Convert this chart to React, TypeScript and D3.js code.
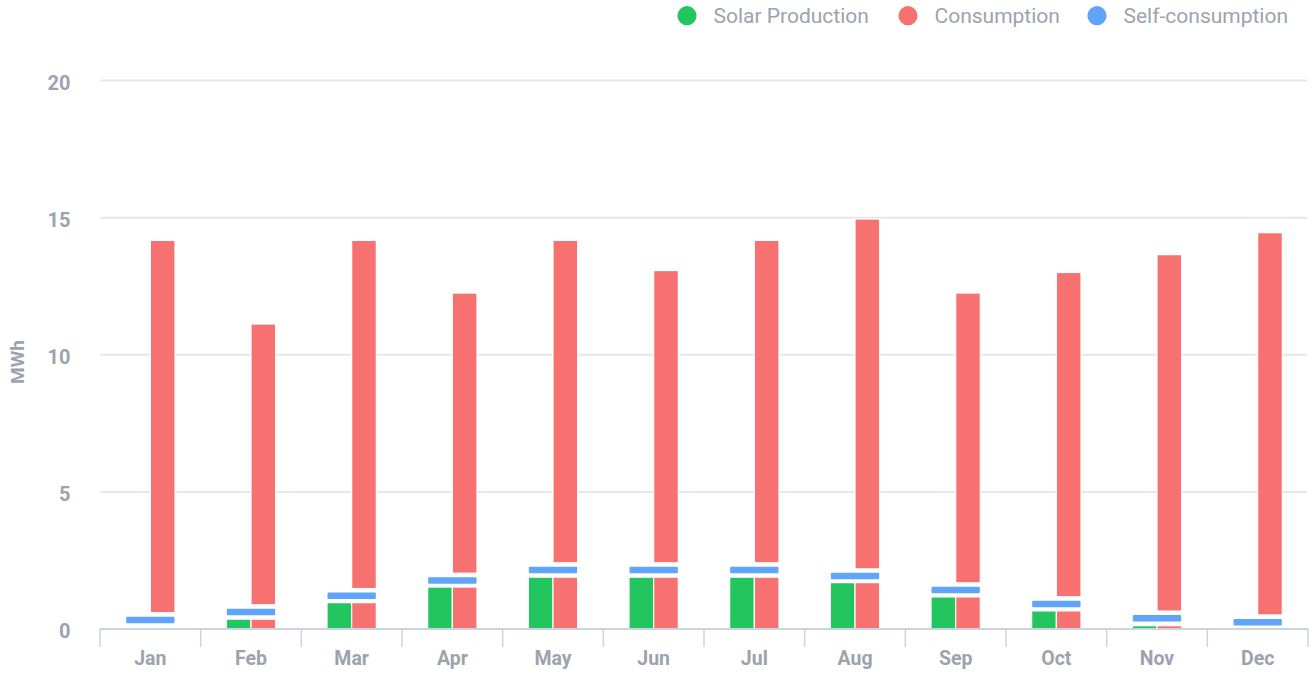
import React, { useEffect, useRef } from 'react';
import * as d3 from 'd3';

const months = ['Jan', 'Feb', 'Mar', 'Apr', 'May', 'Jun', 'Jul', 'Aug', 'Sep', 'Oct', 'Nov', 'Dec'];
const solarProduction = [0.03, 0.36, 0.96, 1.53, 1.89, 1.89, 1.89, 1.69, 1.17, 0.66, 0.12, 0];
const consumption = [14.17, 11.12, 14.17, 12.25, 14.17, 13.07, 14.17, 14.95, 12.25, 13.0, 13.65, 14.45];
const selfConsumption = [0.33, 0.62, 1.21, 1.77, 2.15, 2.15, 2.15, 1.93, 1.42, 0.91, 0.39, 0.25];
const yTicks = [0, 5, 10, 15, 20];

const legendItems = [
  { name: 'Solar Production', color: '#22c55e', x: 687 },
  { name: 'Consumption', color: '#f87171', x: 908 },
  { name: 'Self-consumption', color: '#60a5fa', x: 1097 }
];

const WIDTH = 1315;
const HEIGHT = 674;

export default function App() {
  const svgRef = useRef<SVGSVGElement>(null);

  useEffect(() => {
    if (!svgRef.current) return;
    document.body.style.margin = '0';
    const svg = d3.select(svgRef.current);
    svg.selectAll('*').remove();

    const margin = { top: 80.5, right: 7, bottom: 45, left: 100 };
    const x0 = d3.scaleBand<string>()
      .domain(months)
      .range([margin.left, WIDTH - margin.right])
      .paddingInner(0)
      .paddingOuter(0);
    const groupWidth = x0.bandwidth() * 0.49;
    const x1 = d3.scaleBand<string>()
      .domain(['solar', 'consumption'])
      .range([0, groupWidth]);
    const y = d3.scaleLinear().domain([0, 20]).range([629, margin.top]);

    const font = 'Roboto, sans-serif';
    const textColor = '#9ca3af';

    // grid
    svg.append('g')
      .selectAll('line')
      .data(yTicks.filter(t => t > 0))
      .join('line')
      .attr('x1', margin.left)
      .attr('x2', WIDTH - margin.right - 1)
      .attr('y1', d => y(d))
      .attr('y2', d => y(d))
      .attr('stroke', '#e5e7eb')
      .attr('stroke-width', 2);

    // y labels
    svg.append('g')
      .selectAll('text')
      .data(yTicks)
      .join('text')
      .attr('x', 70.5)
      .attr('y', d => y(d) + 2)
      .attr('dy', '0.35em')
      .attr('text-anchor', 'end')
      .attr('font-family', font)
      .attr('font-weight', 700)
      .attr('font-size', 20)
      .attr('fill', textColor)
      .text(d => d);

    svg.append('text')
      .attr('transform', 'translate(24,362) rotate(-90)')
      .attr('text-anchor', 'middle')
      .attr('font-family', font)
      .attr('font-weight', 700)
      .attr('font-size', 19)
      .attr('fill', textColor)
      .text('MWh');

    // bars
    const bars = svg.append('g');
    months.forEach((m, i) => {
      const gx = (x0(m) ?? 0) + (x0.bandwidth() - groupWidth) / 2;
      const s = solarProduction[i];
      const c = consumption[i];
      const sc = selfConsumption[i];
      const blueH = 6.5;
      const blueTop = y(sc) - blueH / 2;

      bars.append('rect')
        .attr('x', gx + (x1('solar') ?? 0))
        .attr('y', y(s))
        .attr('width', x1.bandwidth())
        .attr('height', Math.max(0, y(0) - y(s)))
        .attr('fill', '#22c55e')
        .attr('stroke', '#fff')
        .attr('stroke-width', 1.2);

      bars.append('rect')
        .attr('x', gx + (x1('consumption') ?? 0))
        .attr('y', y(s))
        .attr('width', x1.bandwidth())
        .attr('height', Math.max(0, y(0) - y(s)))
        .attr('fill', '#f87171')
        .attr('stroke', '#fff')
        .attr('stroke-width', 1.2);

      const upperBottom = blueTop - 4;
      bars.append('rect')
        .attr('x', gx + (x1('consumption') ?? 0))
        .attr('y', y(c))
        .attr('width', x1.bandwidth())
        .attr('height', Math.max(0, upperBottom - y(c)))
        .attr('fill', '#f87171')
        .attr('stroke', '#fff')
        .attr('stroke-width', 1.2);

      bars.append('rect')
        .attr('x', gx + 0.5)
        .attr('y', blueTop)
        .attr('width', groupWidth - 1)
        .attr('height', blueH)
        .attr('rx', 1)
        .attr('fill', '#60a5fa');
    });

    // x axis
    const axis = svg.append('g');
    axis.append('line')
      .attr('x1', margin.left)
      .attr('x2', WIDTH - margin.right)
      .attr('y1', 629)
      .attr('y2', 629)
      .attr('stroke', '#cbd5e1')
      .attr('stroke-width', 2);
    const tickXs = months.map(m => x0(m) ?? 0).concat([WIDTH - margin.right]);
    axis.selectAll('line.tick')
      .data(tickXs)
      .join('line')
      .attr('class', 'tick')
      .attr('x1', d => d)
      .attr('x2', d => d)
      .attr('y1', 629)
      .attr('y2', 647)
      .attr('stroke', '#cbd5e1')
      .attr('stroke-width', 1.5);
    axis.selectAll('text')
      .data(months)
      .join('text')
      .attr('x', d => (x0(d) ?? 0) + x0.bandwidth() / 2)
      .attr('y', 665)
      .attr('text-anchor', 'middle')
      .attr('font-family', font)
      .attr('font-weight', 700)
      .attr('font-size', 19.5)
      .attr('fill', textColor)
      .text(d => d);

    // legend
    const legend = svg.append('g');
    legendItems.forEach(item => {
      legend.append('circle')
        .attr('cx', item.x)
        .attr('cy', 15.7)
        .attr('r', 9.6)
        .attr('fill', item.color);
      legend.append('text')
        .attr('x', item.x + 26.5)
        .attr('y', 23)
        .attr('font-family', font)
        .attr('font-size', 21)
        .attr('fill', textColor)
        .text(item.name);
    });
  }, []);

  return (
    <svg
      ref={svgRef}
      width={WIDTH}
      height={HEIGHT}
      style={{ display: 'block', background: '#fff' }}
    />
  );
}
